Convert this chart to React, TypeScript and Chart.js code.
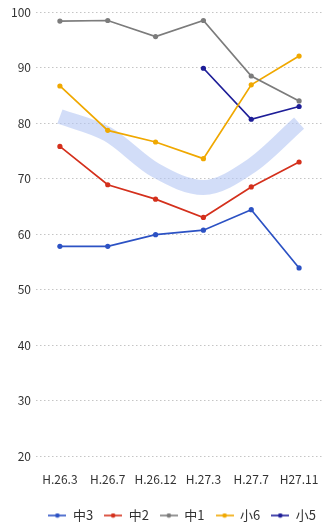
import React, { useEffect, useRef } from "react";
import { Chart, registerables } from "chart.js";

Chart.register(...registerables);

const categories = ["H.26.3", "H.26.7", "H.26.12", "H.27.3", "H.27.7", "H27.11"];
const chu3 = [57.8, 57.8, 59.9, 60.7, 64.4, 53.9];
const chu2 = [75.8, 68.9, 66.3, 63.0, 68.5, 73.0];
const chu1 = [98.4, 98.5, 95.6, 98.5, 88.5, 84.0];
const sho6 = [86.7, 78.7, 76.6, 73.6, 86.9, 92.1];
const sho5 = [null, null, null, 89.9, 80.7, 83.0];
// broad highlighted trend drawn behind the series
const trendBand = [81.2, 78.0, 71.5, 68.4, 72.3, 80.0];

const seriesLabels = ["中3", "中2", "中1", "小6", "小5"];
const seriesColors = ["#2c52c4", "#d4301c", "#7c7c7c", "#f0a800", "#1e1e98"];

const FONT = "'Noto Sans CJK JP', 'Noto Sans', sans-serif";

function makeMarker(color: string): HTMLCanvasElement {
  const c = document.createElement("canvas");
  c.width = 18;
  c.height = 6;
  const ctx = c.getContext("2d")!;
  ctx.strokeStyle = color;
  ctx.lineWidth = 1.6;
  ctx.beginPath();
  ctx.moveTo(0, 3);
  ctx.lineTo(18, 3);
  ctx.stroke();
  ctx.fillStyle = color;
  ctx.beginPath();
  ctx.arc(9, 3, 2.3, 0, Math.PI * 2);
  ctx.fill();
  return c;
}

export default function App() {
  const ref = useRef<HTMLCanvasElement | null>(null);

  useEffect(() => {
    if (!ref.current) return;
    const seriesData = [chu3, chu2, chu1, sho6, sho5];
    const markers = seriesColors.map(makeMarker);

    const lineSets = seriesData.map((d, i) => ({
      label: seriesLabels[i],
      data: d,
      borderColor: seriesColors[i],
      backgroundColor: seriesColors[i],
      borderWidth: 1.7,
      pointRadius: 2.6,
      pointBorderWidth: 0,
      pointBackgroundColor: seriesColors[i],
      tension: 0,
      spanGaps: false,
      order: 1,
    }));

    const bandSet = {
      label: "",
      data: trendBand,
      borderColor: "rgba(180,198,244,0.6)",
      backgroundColor: "rgba(180,198,244,0.6)",
      borderWidth: 15,
      borderCapStyle: "butt" as const,
      pointRadius: 0,
      cubicInterpolationMode: "monotone" as const,
      order: 10,
    };

    const chart = new Chart(ref.current, {
      type: "line",
      data: {
        labels: categories,
        datasets: [...lineSets, bandSet] as any,
      },
      options: {
        animation: false,
        responsive: true,
        maintainAspectRatio: false,
        layout: { padding: { top: 10, left: 6, right: 0, bottom: 0 } },
        plugins: {
          tooltip: { enabled: false },
          legend: {
            position: "bottom",
            align: "end",
            labels: {
              usePointStyle: true,
              pointStyleWidth: 18,
              padding: 11,
              color: "#333",
              font: { family: FONT, size: 13 },
              generateLabels: () =>
                seriesLabels.map((t, i) => ({
                  text: t,
                  pointStyle: markers[i],
                  datasetIndex: i,
                  hidden: false,
                  fillStyle: seriesColors[i],
                  strokeStyle: seriesColors[i],
                  lineWidth: 0,
                  fontColor: "#333",
                })) as any,
            },
          },
        },
        scales: {
          x: {
            offset: true,
            border: { display: false },
            grid: { display: false },
            ticks: {
              color: "#333",
              padding: 8,
              maxRotation: 0,
              autoSkip: false,
              font: { family: FONT, size: 12 },
            },
            afterFit: (scale: any) => {
              scale.height = 42;
            },
          },
          y: {
            min: 20,
            max: 100,
            // dotted horizontal grid lines
            border: { display: false, dash: [1.5, 2.5] },
            grid: {
              color: "rgba(150,150,150,0.55)",
              lineWidth: 1,
              drawTicks: false,
            },
            ticks: {
              stepSize: 10,
              padding: 5,
              color: "#333",
              font: { family: FONT, size: 12 },
            },
          },
        },
      },
    });

    return () => chart.destroy();
  }, []);

  return (
    <div
      style={{
        position: "fixed",
        left: 0,
        top: 0,
        width: 323,
        height: 523,
        overflow: "hidden",
        background: "#fff",
      }}
    >
      <div style={{ position: "relative", width: 327, height: 532 }}>
        <canvas ref={ref} />
      </div>
    </div>
  );
}
